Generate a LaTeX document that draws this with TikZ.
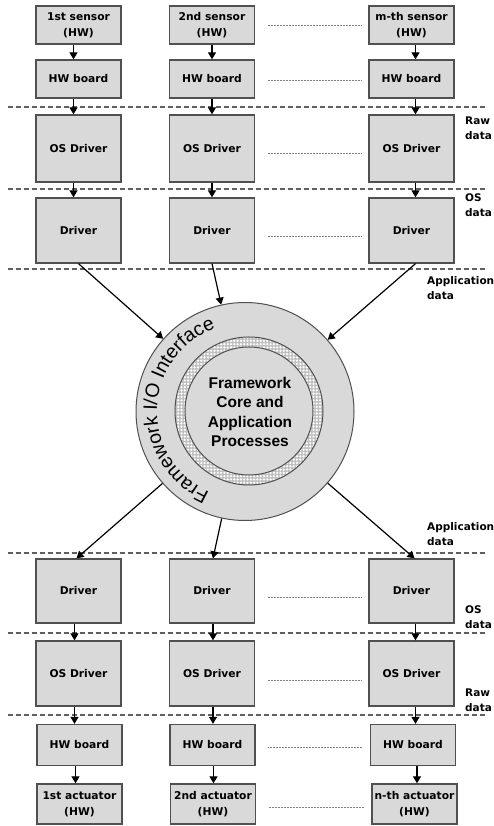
\documentclass[tikz,border=0pt]{standalone}
\usepackage{fontspec}
\setsansfont{DejaVu Sans}
\newfontfamily\libsans{Liberation Sans}
\usetikzlibrary{arrows.meta,decorations.text,patterns.meta,calc}
\definecolor{boxgray}{HTML}{D9D9D9}
\definecolor{edgegray}{HTML}{505050}
\definecolor{sepgray}{HTML}{606060}
\begin{document}
\begin{tikzpicture}[x=1pt,y=1pt,
  blk/.style={draw=edgegray, line width=1.3pt, fill=boxgray, minimum width=85pt, inner sep=0pt, align=center, font=\sffamily\bfseries\fontsize{10.7}{16}\selectfont},
  arr/.style={line width=1.2pt, -{Triangle[width=8pt,length=7pt]}},
  sepline/.style={draw=sepgray, line width=1.1pt, dash pattern=on 5pt off 3pt},
  ell/.style={draw=gray, line width=0.8pt, dash pattern=on 1pt off 0.5pt},
  lbl/.style={anchor=west, align=left, inner sep=0pt, font=\sffamily\bfseries\fontsize{10.5}{15}\selectfont}]
\fill[white] (0,0) rectangle (494,826);
\useasboundingbox (0,0) rectangle (494,826);

% separators
\draw[sepline] (8,719) -- (487,719);
\draw[sepline] (8,637) -- (487,637);
\draw[sepline] (8,557) -- (487,557);
\draw[sepline] (8,273) -- (487,273);
\draw[sepline] (8,193) -- (487,193);
\draw[sepline] (8,111) -- (487,111);

% top boxes
\node[blk, minimum height=38pt] (s1) at (78.5,801) {1st sensor\\(HW)};
\node[blk, minimum height=38pt] (s2) at (212,801) {2nd sensor\\(HW)};
\node[blk, minimum height=38pt] (s3) at (411.5,801) {m-th sensor\\(HW)};
\node[blk, minimum height=38pt] (h1) at (78.5,747) {HW board};
\node[blk, minimum height=38pt] (h2) at (212,747) {HW board};
\node[blk, minimum height=38pt] (h3) at (411.5,747) {HW board};
\node[blk, minimum height=67pt] (o1) at (78.5,677.5) {OS Driver};
\node[blk, minimum height=67pt] (o2) at (212,677.5) {OS Driver};
\node[blk, minimum height=67pt] (o3) at (411.5,677.5) {OS Driver};
\node[blk, minimum height=65pt] (d1) at (78.5,595.5) {Driver};
\node[blk, minimum height=65pt] (d2) at (212,595.5) {Driver};
\node[blk, minimum height=65pt] (d3) at (411.5,595.5) {Driver};

% bottom boxes
\node[blk, minimum height=64pt] (bd1) at (78.5,235) {Driver};
\node[blk, minimum height=64pt] (bd2) at (212,235) {Driver};
\node[blk, minimum height=64pt] (bd3) at (411.5,235) {Driver};
\node[blk, minimum height=65pt] (bo1) at (78.5,152.5) {OS Driver};
\node[blk, minimum height=65pt] (bo2) at (212,152.5) {OS Driver};
\node[blk, minimum height=65pt] (bo3) at (411.5,152.5) {OS Driver};
\node[blk, minimum height=41pt] (bh1) at (79.5,81) {HW board};
\node[blk, minimum height=41pt] (bh2) at (212.5,81) {HW board};
\node[blk, minimum height=41pt] (bh3) at (413,81) {HW board};
\node[blk, minimum height=40pt] (a1) at (79.5,22) {1st actuator\\(HW)};
\node[blk, minimum height=40pt] (a2) at (213,22) {2nd actuator\\(HW)};
\node[blk, minimum height=40pt] (a3) at (414.5,22) {n-th actuator\\(HW)};

% ellipsis lines
\draw[ell] ([xshift=12.5pt]s2.east) -- ([xshift=-7.5pt]s3.west);
\draw[ell] ([xshift=12.5pt,yshift=-1pt]h2.east) -- ([xshift=-7.5pt,yshift=-1pt]h3.west);
\draw[ell] ([xshift=12.5pt,yshift=-4.5pt]o2.east) -- ([xshift=-7.5pt,yshift=-4.5pt]o3.west);
\draw[ell] ([xshift=12.5pt,yshift=-5.5pt]d2.east) -- ([xshift=-7.5pt,yshift=-5.5pt]d3.west);
\draw[ell] ([xshift=12.5pt,yshift=-6pt]bd2.east) -- ([xshift=-7.5pt,yshift=-6pt]bd3.west);
\draw[ell] ([xshift=12.5pt,yshift=-6.5pt]bo2.east) -- ([xshift=-7.5pt,yshift=-6.5pt]bo3.west);
\draw[ell] ([xshift=12.5pt,yshift=-2pt]bh2.east) -- ([xshift=-7.5pt,yshift=-2pt]bh3.west);
\draw[ell] ([xshift=12.5pt,yshift=-3pt]a2.east) -- ([xshift=-7.5pt,yshift=-3pt]a3.west);

% vertical arrows top
\foreach \c/\dx in {1/-5pt,2/0pt,3/4pt}{
  \draw[arr] ([xshift=\dx]s\c.south) -- ([xshift=\dx]s\c.south |- h\c.north);
  \draw[arr] ([xshift=\dx]h\c.south) -- ([xshift=\dx]h\c.south |- o\c.north);
  \draw[arr] ([xshift=\dx]o\c.south) -- ([xshift=\dx]o\c.south |- d\c.north);
}
% vertical arrows bottom
\foreach \c/\dx in {1/-4pt,2/1pt,3/4pt}{
  \draw[arr] ([xshift=\dx]bd\c.south) -- ([xshift=\dx]bd\c.south |- bo\c.north);
  \draw[arr] ([xshift=\dx]bo\c.south) -- ([xshift=\dx]bo\c.south |- bh\c.north);
  \draw[arr] ([xshift=\dx]bh\c.south) -- ([xshift=\dx]bh\c.south |- a\c.north);
}

% central circle
\node[circle, draw=edgegray, line width=1pt, fill=boxgray, minimum size=218pt, inner sep=0pt] (io) at (245,414.5) {};
\coordinate (rc) at (249,415);
\fill[gray!50, even odd rule] (rc) circle[radius=74pt] (rc) circle[radius=64pt];
\fill[pattern={Dots[radius=1.25pt, distance=3.3pt]}, pattern color=white, even odd rule] (rc) circle[radius=74pt] (rc) circle[radius=64pt];
\draw[edgegray, line width=1pt] (rc) circle[radius=74pt] (rc) circle[radius=64pt];
\node[align=center, font=\libsans\bfseries\fontsize{15.5}{19.5}\selectfont] (core) at (250,414) {Framework\\Core and\\Application\\Processes};
\path[decorate, decoration={text along path, text align=center,
   text={|\libsans\fontsize{19.5}{19.5}\selectfont|Framework I/O Interface}}]
   ($(io.center)+(247:88pt)$) arc[start angle=247, end angle=109, radius=88pt];

% slanted arrows
\draw[arr] (d1.south) -- (io);
\draw[arr] (d2.south) -- (io);
\draw[arr] ([xshift=4pt]d3.south) -- (io);
\draw[arr] (io) -- ([xshift=-2pt]bd1.north);
\draw[arr] (io) -- ([xshift=1pt]bd2.north);
\draw[arr] (io) -- ([xshift=3pt]bd3.north);

% labels
\node[lbl] (l1) at (465,697.5) {Raw\\data};
\node[lbl] (l2) at (465,620.5) {OS\\data};
\node[lbl] (l3) at (427,538) {Application\\data};
\node[lbl] (l4) at (427,291.5) {Application\\data};
\node[lbl] (l5) at (465,208.5) {OS\\data};
\node[lbl] (l6) at (465,125.5) {Raw\\data};
\end{tikzpicture}
\end{document}
